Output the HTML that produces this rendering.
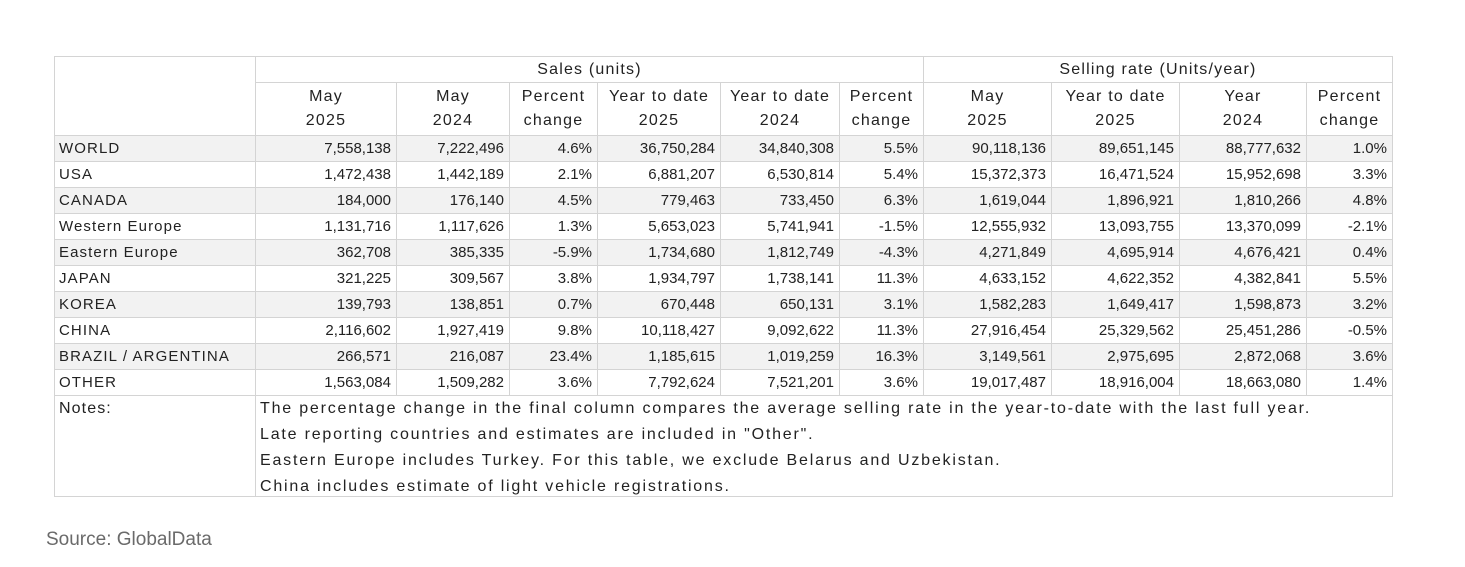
<!DOCTYPE html>
<html><head><meta charset="utf-8"><style>
body{margin:0;width:1465px;height:567px;background:#fff;font-family:"Liberation Sans",sans-serif;position:relative;overflow:hidden}
table{position:absolute;left:54px;top:56px;border-collapse:collapse;table-layout:fixed;font-size:15px;color:#222}
td{border:1px solid #d4d4d4;height:25px;padding:0 5px;white-space:nowrap;text-align:right;line-height:25px}
td.l{text-align:left;padding-left:4px;letter-spacing:1.1px}
tr.g td{background:#f2f2f2}
.h td{text-align:center;line-height:24px;font-size:16px;letter-spacing:1.2px;padding:0}
.n{text-align:left;vertical-align:top;padding-left:4px;font-size:16px;letter-spacing:1.8px;height:100px}
.n div{height:100px;line-height:26px;overflow:visible}
.src{position:absolute;left:46px;top:529px;font-size:19px;color:#6a6a6a}
</style></head><body>
<table>
<colgroup><col style="width:201px"><col style="width:141px"><col style="width:113px"><col style="width:88px"><col style="width:123px"><col style="width:119px"><col style="width:84px"><col style="width:128px"><col style="width:128px"><col style="width:127px"><col style="width:86px"></colgroup>
<tr class="h"><td rowspan="2"></td><td colspan="6">Sales (units)</td><td colspan="4">Selling rate (Units/year)</td></tr>
<tr class="h"><td style="height:52px">May<br>2025</td><td>May<br>2024</td><td>Percent<br>change</td><td>Year to date<br>2025</td><td>Year to date<br>2024</td><td>Percent<br>change</td><td>May<br>2025</td><td>Year to date<br>2025</td><td>Year<br>2024</td><td>Percent<br>change</td></tr>
<tr class="g"><td class="l">WORLD</td><td>7,558,138</td><td>7,222,496</td><td>4.6%</td><td>36,750,284</td><td>34,840,308</td><td>5.5%</td><td>90,118,136</td><td>89,651,145</td><td>88,777,632</td><td>1.0%</td></tr>
<tr><td class="l">USA</td><td>1,472,438</td><td>1,442,189</td><td>2.1%</td><td>6,881,207</td><td>6,530,814</td><td>5.4%</td><td>15,372,373</td><td>16,471,524</td><td>15,952,698</td><td>3.3%</td></tr>
<tr class="g"><td class="l">CANADA</td><td>184,000</td><td>176,140</td><td>4.5%</td><td>779,463</td><td>733,450</td><td>6.3%</td><td>1,619,044</td><td>1,896,921</td><td>1,810,266</td><td>4.8%</td></tr>
<tr><td class="l">Western Europe</td><td>1,131,716</td><td>1,117,626</td><td>1.3%</td><td>5,653,023</td><td>5,741,941</td><td>-1.5%</td><td>12,555,932</td><td>13,093,755</td><td>13,370,099</td><td>-2.1%</td></tr>
<tr class="g"><td class="l">Eastern Europe</td><td>362,708</td><td>385,335</td><td>-5.9%</td><td>1,734,680</td><td>1,812,749</td><td>-4.3%</td><td>4,271,849</td><td>4,695,914</td><td>4,676,421</td><td>0.4%</td></tr>
<tr><td class="l">JAPAN</td><td>321,225</td><td>309,567</td><td>3.8%</td><td>1,934,797</td><td>1,738,141</td><td>11.3%</td><td>4,633,152</td><td>4,622,352</td><td>4,382,841</td><td>5.5%</td></tr>
<tr class="g"><td class="l">KOREA</td><td>139,793</td><td>138,851</td><td>0.7%</td><td>670,448</td><td>650,131</td><td>3.1%</td><td>1,582,283</td><td>1,649,417</td><td>1,598,873</td><td>3.2%</td></tr>
<tr><td class="l">CHINA</td><td>2,116,602</td><td>1,927,419</td><td>9.8%</td><td>10,118,427</td><td>9,092,622</td><td>11.3%</td><td>27,916,454</td><td>25,329,562</td><td>25,451,286</td><td>-0.5%</td></tr>
<tr class="g"><td class="l">BRAZIL / ARGENTINA</td><td>266,571</td><td>216,087</td><td>23.4%</td><td>1,185,615</td><td>1,019,259</td><td>16.3%</td><td>3,149,561</td><td>2,975,695</td><td>2,872,068</td><td>3.6%</td></tr>
<tr><td class="l">OTHER</td><td>1,563,084</td><td>1,509,282</td><td>3.6%</td><td>7,792,624</td><td>7,521,201</td><td>3.6%</td><td>19,017,487</td><td>18,916,004</td><td>18,663,080</td><td>1.4%</td></tr>
<tr><td class="n" style="letter-spacing:1.1px"><div>Notes:</div></td><td class="n" colspan="10"><div>The percentage change in the final column compares the average selling rate in the year-to-date with the last full year.<br>Late reporting countries and estimates are included in "Other".<br>Eastern Europe includes Turkey. For this table, we exclude Belarus and Uzbekistan.<br>China includes estimate of light vehicle registrations.</div></td></tr>
</table>
<div class="src">Source: GlobalData</div>
</body></html>
